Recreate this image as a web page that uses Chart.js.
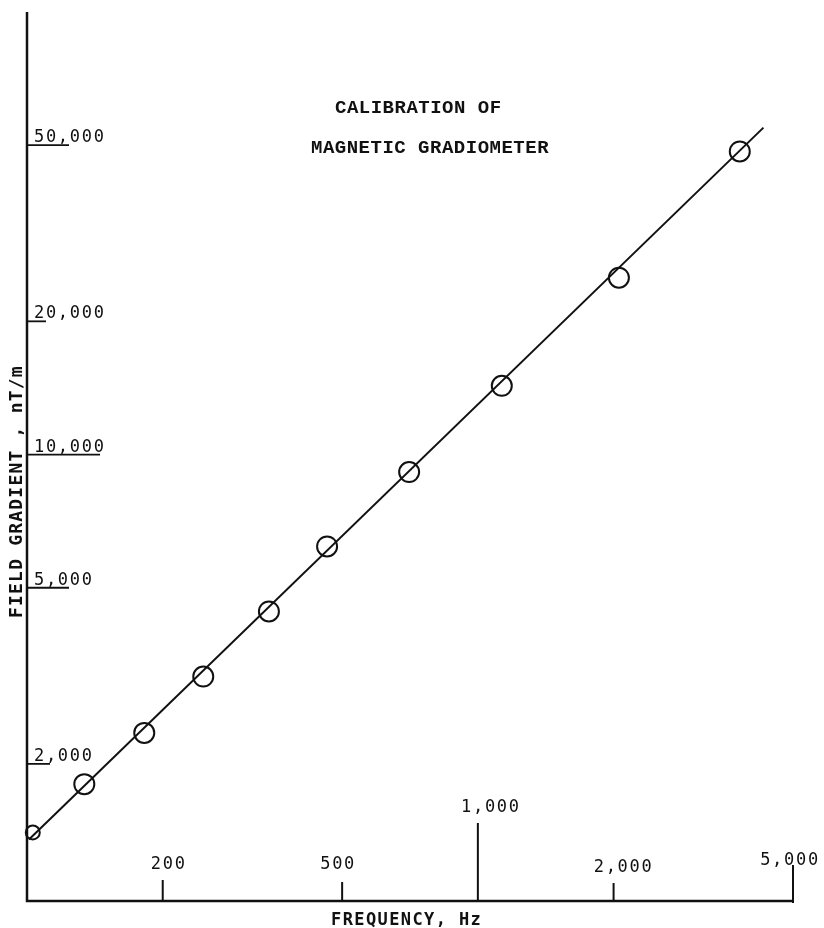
<!DOCTYPE html>
<html><head><meta charset="utf-8">
<script src="https://cdn.jsdelivr.net/npm/chart.js@4"></script>
<style>html,body{margin:0;padding:0;background:#fff}canvas{display:block}</style>
</head><body>
<canvas id="c" width="824" height="928"></canvas>
<script>
// ---- data ----
const frequencyHz   = [103, 134, 182, 246, 344, 463, 704, 1130, 2055, 3810];
const fieldGradient = [1400, 1800, 2350, 3150, 4420, 6200, 9130, 14300, 25100, 48400];
const fitFrequency  = [101, 4300];
const fitGradient   = [1350, 54800];
const xTickValues = [200, 500, 1000, 2000, 5000];
const xTickLabels = ['200', '500', '1,000', '2,000', '5,000'];
const yTickValues = [50000, 20000, 10000, 5000, 2000];
const yTickLabels = ['50,000', '20,000', '10,000', '5,000', '2,000'];
const titleLines = ['CALIBRATION OF', 'MAGNETIC GRADIOMETER'];
const xTitle = 'FREQUENCY, Hz';
const yTitle = 'FIELD GRADIENT , nT/m';

// ---- style (hand-drawn tick lengths / label nudges) ----
const xTickLen = [20, 18, 77, 17, 35];
const xLabelDx = [6, -4, 13, 10, -3];
const xLabelGap = [11, 13, 11, 11, 0];
const yTickLen = [42, 19, 73, 42, 23];
const INK = '#111';

const handAxes = {
  id: 'handAxes',
  afterDraw(chart) {
    const ctx = chart.ctx;
    const xs = chart.scales.x, ys = chart.scales.y;
    const a = chart.chartArea;
    ctx.save();
    ctx.strokeStyle = INK;
    ctx.fillStyle = INK;
    ctx.lineCap = 'butt';
    // axes
    ctx.lineWidth = 2.5;
    ctx.beginPath();
    ctx.moveTo(a.left, a.top);
    ctx.lineTo(a.left, a.bottom + 1);
    ctx.lineTo(a.right, a.bottom + 1);
    ctx.stroke();
    // x ticks
    ctx.lineWidth = 2;
    ctx.font = '17px "DejaVu Sans Mono"';
    ctx.letterSpacing = '1.7px';
    ctx.textAlign = 'center';
    ctx.textBaseline = 'alphabetic';
    xTickValues.forEach((v, i) => {
      const px = xs.getPixelForValue(v);
      const top = a.bottom - xTickLen[i];
      ctx.beginPath();
      ctx.moveTo(px, a.bottom + (i === 4 ? 3 : 0));
      ctx.lineTo(px, top);
      ctx.stroke();
      ctx.fillText(xTickLabels[i], px + xLabelDx[i], top - xLabelGap[i]);
    });
    // y ticks
    ctx.textAlign = 'left';
    yTickValues.forEach((v, i) => {
      const py = ys.getPixelForValue(v);
      ctx.lineWidth = 1.8;
      ctx.beginPath();
      ctx.moveTo(a.left, py);
      ctx.lineTo(a.left + yTickLen[i], py);
      ctx.stroke();
      ctx.fillText(yTickLabels[i], a.left + 7, py - 3);
    });
    // chart title
    ctx.font = 'bold 19px "Liberation Mono"';
    ctx.letterSpacing = '0.5px';
    ctx.textAlign = 'left';
    ctx.fillText(titleLines[0], 335, 113);
    ctx.fillText(titleLines[1], 311, 153);
    // x axis title
    ctx.font = 'bold 17px "DejaVu Sans Mono"';
    ctx.letterSpacing = '1.4px';
    ctx.fillText(xTitle, 331, 925);
    // y axis title
    ctx.translate(22, 618);
    ctx.rotate(-Math.PI / 2);
    ctx.font = 'bold 18px "DejaVu Sans Mono"';
    ctx.letterSpacing = '1.2px';
    ctx.fillText(yTitle, 0, 0);
    ctx.restore();
  }
};

new Chart(document.getElementById('c'), {
  type: 'scatter',
  data: {
    datasets: [
      {
        label: 'Fit',
        data: fitFrequency.map((f, i) => ({x: f, y: fitGradient[i]})),
        showLine: true,
        borderColor: INK,
        borderWidth: 2,
        pointRadius: 0,
        fill: false
      },
      {
        label: 'Calibration points',
        data: frequencyHz.map((f, i) => ({x: f, y: fieldGradient[i]})),
        showLine: false,
        pointStyle: 'circle',
        pointRadius: ctx => (ctx.dataIndex === 0 ? 7 : 10),
        borderColor: INK,
        borderWidth: 2,
        backgroundColor: 'rgba(0,0,0,0)'
      }
    ]
  },
  options: {
    responsive: false,
    animation: false,
    devicePixelRatio: 1,
    clip: false,
    layout: {padding: {left: 27, top: 8, right: 31, bottom: 28}},
    plugins: {legend: {display: false}, tooltip: {enabled: false}, title: {display: false}},
    scales: {
      x: {type: 'logarithmic', min: 100, max: 5000, display: false},
      y: {type: 'logarithmic', min: 985, max: 100000, display: false}
    }
  },
  plugins: [handAxes]
});
</script>
</body></html>
